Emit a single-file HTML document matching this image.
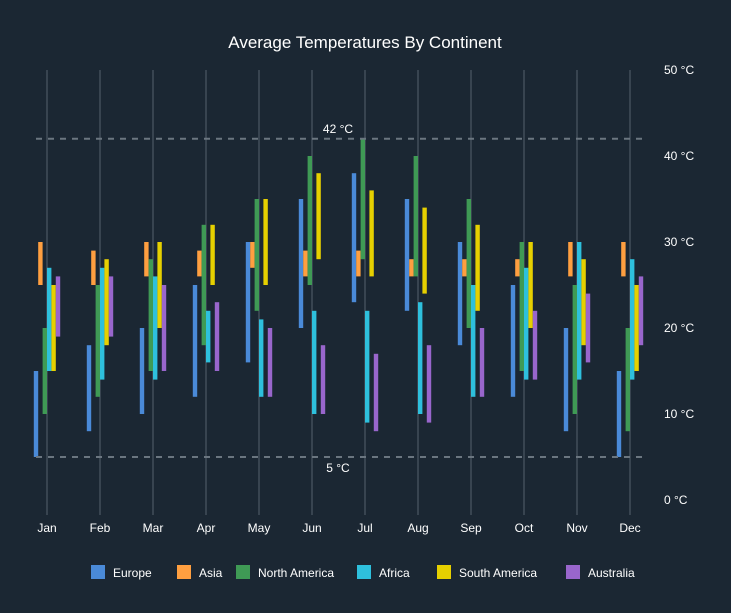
<!DOCTYPE html>
<html><head><meta charset="utf-8"><style>
body{margin:0;background:#1b2733;}
svg{display:block;font-family:"Liberation Sans",sans-serif;}
</style></head><body>
<svg id="c" width="731" height="613">
<rect width="731" height="613" fill="#1b2733"/>
<text x="365" y="48" fill="#fff" font-size="17" text-anchor="middle">Average Temperatures By Continent</text>
<g id="grid"></g><g id="bars"></g><g id="ann"></g><g id="legend"></g>
</svg>
<script>
const months=["Jan","Feb","Mar","Apr","May","Jun","Jul","Aug","Sep","Oct","Nov","Dec"];
const seriesNames=["Europe","Asia","North America","Africa","South America","Australia"];
const colors=["#4a8ad8","#ff9f40","#3f9a55","#2ec0dd","#e6d000","#9966cc"];
const europeLow=[5,8,10,12,16,20,23,22,18,12,8,5];
const europeHigh=[15,18,20,25,30,35,38,35,30,25,20,15];
const asiaLow=[25,25,26,26,27,26,26,26,26,26,26,26];
const asiaHigh=[30,29,30,29,30,29,29,28,28,28,30,30];
const naLow=[10,12,15,18,22,25,28,26,20,15,10,8];
const naHigh=[20,25,28,32,35,40,42,40,35,30,25,20];
const africaLow=[15,14,14,16,12,10,9,10,12,14,14,14];
const africaHigh=[27,27,26,22,21,22,22,23,25,27,30,28];
const saLow=[15,18,20,25,25,28,26,24,22,20,18,15];
const saHigh=[25,28,30,32,35,38,36,34,32,30,28,25];
const auLow=[19,19,15,15,12,10,8,9,12,14,16,18];
const auHigh=[26,26,25,23,20,18,17,18,20,22,24,26];
const yTicks=[0,10,20,30,40,50];
const refLines=[42,5];
const lows=[europeLow,asiaLow,naLow,africaLow,saLow,auLow];
const highs=[europeHigh,asiaHigh,naHigh,africaHigh,saHigh,auHigh];
const NS="http://www.w3.org/2000/svg";
const y=v=>500-8.6*v;
const x=i=>47+53*i;
const bw=4.4;
function mk(t,a,p){const e=document.createElementNS(NS,t);for(const k in a)e.setAttribute(k,a[k]);p.appendChild(e);return e;}
const grid=document.getElementById('grid');
months.forEach((m,i)=>{
  const l=mk('line',{x1:x(i),x2:x(i),y1:70,y2:515,stroke:'#56606c','stroke-width':1},grid);
  
  
  const t=mk('text',{x:x(i),y:532,fill:'#fff','font-size':12,'text-anchor':'middle'},grid);
  t.textContent=m;
  
  
});
yTicks.forEach(v=>{
  const t=mk('text',{x:664,y:y(v)+4,fill:'#fff','font-size':12},grid);
  t.textContent=v+' °C';
  
  
});
const bars=document.getElementById('bars');
seriesNames.forEach((s,k)=>{
  months.forEach((m,i)=>{
    const lo=lows[k][i],hi=highs[k][i];
    const r=mk('rect',{x:x(i)+(k-3)*bw,y:y(hi),width:bw,height:y(lo)-y(hi),fill:colors[k]},bars);
    
    
  });
});
const ann=document.getElementById('ann');
refLines.forEach(v=>{
  const l=mk('line',{x1:36,x2:644,y1:y(v),y2:y(v),stroke:'#6b7680','stroke-width':2,'stroke-dasharray':'6,6'},ann);
  
  
  const t=mk('text',{x:338,y:v>20?y(v)-6:y(v)+15,fill:'#fff','font-size':12,'text-anchor':'middle'},ann);
  t.textContent=v+' °C';
  
  
});
const leg=document.getElementById('legend');
const lx=[91,177,236,357,437,566];
seriesNames.forEach((s,k)=>{
  const g=mk('g',{},leg);
  
  
  mk('rect',{x:lx[k],y:565,width:14,height:14,fill:colors[k]},g);
  const t=mk('text',{x:lx[k]+22,y:577,fill:'#fff','font-size':12},g);
  t.textContent=s;
});
</script>
</body></html>
